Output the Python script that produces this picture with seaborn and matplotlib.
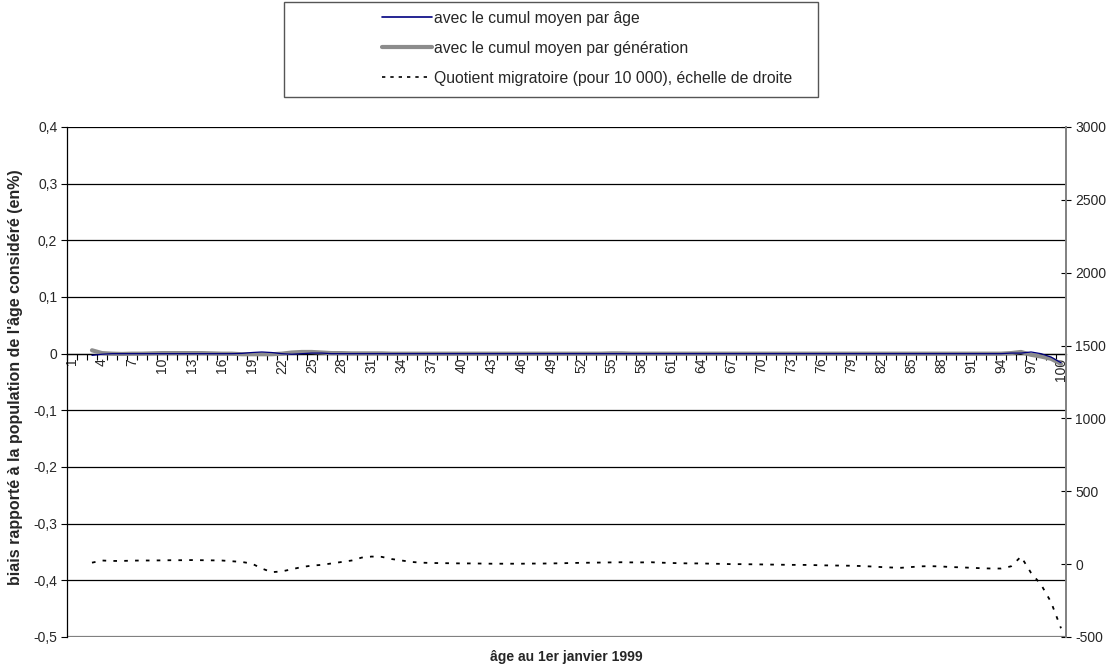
import numpy as np
import pandas as pd
import matplotlib
matplotlib.use("Agg")
import matplotlib.pyplot as plt
from matplotlib.patches import Rectangle
from matplotlib.lines import Line2D
from matplotlib.ticker import FixedLocator, FuncFormatter, FixedFormatter
import seaborn as sns

# ---- data -------------------------------------------------------------
ages = list(range(1, 101))
tick_ages = list(range(1, 101, 3))

nan = np.nan
# bias with mean cumulation by age (%), ages 1..100
bias_age = [nan, nan, -0.003, -0.001, 0.0, 0.0, 0.0, 0.0, 0.0, 0.0,
            0.0, 0.0, 0.0, 0.0, 0.0, 0.0, 0.0, 0.0005, 0.002, 0.003,
            0.002, 0.0, -0.001, 0.0, 0.001, 0.001, 0.0, 0.0, 0.0, 0.0,
            0.0, 0.0, 0.0, 0.0, 0.0, 0.0, 0.0, 0.0, 0.0, 0.0,
            0.0, 0.0, 0.0, 0.0, 0.0, 0.0, 0.0, 0.0, 0.0, 0.0,
            0.0, 0.0, 0.0, 0.0, 0.0, 0.0, 0.0, 0.0, 0.0, 0.0,
            0.0, 0.0, 0.0, 0.0, 0.0, 0.0, 0.0, 0.0, 0.0, 0.0,
            0.0, 0.0, 0.0, 0.0, 0.0, 0.0, 0.0, 0.0, 0.0, 0.0,
            0.0, 0.0, 0.0, 0.0, 0.0, 0.0, 0.0, 0.0, 0.0, 0.0,
            0.0, 0.0, 0.0, 0.0, 0.001, 0.001, 0.003, 0.0, -0.006, -0.016]

# bias with mean cumulation by generation (%)
bias_gen = [nan, nan, 0.006, 0.001, 0.0, -0.0005, 0.0, 0.0, 0.0005, 0.001,
            0.001, 0.001, 0.001, 0.001, 0.0005, 0.0, 0.0, -0.001, -0.001, -0.001,
            -0.001, 0.0, 0.002, 0.003, 0.003, 0.002, 0.001, 0.001, 0.0005, 0.0005,
            0.0005, 0.0005, 0.0, 0.0, 0.0, 0.0, 0.0, 0.0, 0.0, 0.0,
            0.0, 0.0, 0.0, 0.0, 0.0, 0.0, 0.0, 0.0, 0.0, 0.0,
            0.0, 0.0, 0.0, 0.0, 0.0005, 0.0005, 0.0, 0.0, 0.0, 0.0,
            0.0, 0.0, 0.0, 0.0, 0.0, 0.0, 0.0, 0.0, 0.0, 0.0,
            0.0, 0.0, 0.0, 0.0, 0.0, 0.0, 0.0, 0.0, 0.0, 0.0,
            0.0, 0.0, 0.0, 0.0, 0.0, 0.0, 0.0, 0.0, 0.0, 0.0,
            0.0, 0.0, 0.0, 0.0, 0.001, 0.003, -0.002, -0.005, -0.009, -0.018]

# migratory quotient (per 10 000), right axis
quotient = [nan, nan, 10, 25, 22, 22, 24, 25, 25, 26,
            27, 27, 28, 27, 26, 25, 20, 15, 4, -30,
            -55, -50, -35, -20, -10, -5, 5, 15, 25, 45,
            52, 50, 35, 25, 15, 10, 8, 7, 6, 5,
            5, 4, 3, 3, 3, 3, 4, 4, 5, 6,
            8, 9, 10, 11, 12, 13, 12, 12, 13, 10,
            8, 6, 5, 5, 3, 2, 0, 0, -1, -2,
            -3, -4, -5, -5, -6, -8, -9, -10, -11, -13,
            -16, -20, -23, -25, -20, -15, -14, -16, -20, -22,
            -25, -28, -30, -30, -15, 52, -60, -140, -260, -440]

labels = ["avec le cumul moyen par âge",
          "avec le cumul moyen par génération",
          "Quotient migratoire (pour 10 000), échelle de droite"]

df = pd.DataFrame({"age": ages, "bias_age": bias_age,
                   "bias_gen": bias_gen, "quotient": quotient})

# ---- style ------------------------------------------------------------
sns.set_theme(style="white")
plt.rcParams["font.family"] = ["Liberation Sans", "DejaVu Sans"]
plt.rcParams["axes.unicode_minus"] = False

fig = plt.figure(figsize=(11.15, 6.72), dpi=100)
ax = fig.add_axes([67 / 1115, 1 - 637 / 672, (1066 - 67) / 1115, (637 - 127) / 672])
ax2 = ax.twinx()

BLUE = "#000080"
GREY = "#8c8c8c"

sns.lineplot(data=df, x="age", y="bias_gen", ax=ax, color=GREY, lw=3.0, zorder=3)
sns.lineplot(data=df, x="age", y="bias_age", ax=ax, color=BLUE, lw=0.9, zorder=4)
sns.lineplot(data=df, x="age", y="quotient", ax=ax2, color="black", lw=1.3,
             dashes=False, zorder=3)
ax2.lines[-1].set_dashes((2, 4))

# left axis
ax.set_xlim(0.5, 100.5)
ax.set_ylim(-0.5, 0.4)
yt = np.round(np.arange(-0.5, 0.41, 0.1), 1)
for v in yt:
    ax.axhline(v, color="black", lw=0.9, zorder=1)
ax.axhline(-0.5, color="#808080", lw=1.6, zorder=1)

for s in ["top", "right"]:
    ax.spines[s].set_visible(False)
ax.spines["bottom"].set_position(("data", 0))
ax.spines["left"].set_color("black")
ax.spines["left"].set_linewidth(0.9)
ax.spines["bottom"].set_color("black")
ax.spines["bottom"].set_linewidth(0.9)

ax.set_yticks(yt)
ax.yaxis.set_major_formatter(FuncFormatter(
    lambda v, p: "0" if abs(v) < 1e-9 else f"{v:.1f}".replace(".", ",")))
ax.xaxis.set_major_locator(FixedLocator(tick_ages))
ax.xaxis.set_major_formatter(FixedFormatter([str(a) for a in tick_ages]))
ax.xaxis.set_minor_locator(FixedLocator(np.arange(0.5, 101, 1)))
ax.tick_params(axis="x", which="major", length=0, pad=3, labelsize=10,
               labelrotation=90)
ax.tick_params(axis="x", which="minor", length=4, width=0.8, direction="out",
               color="black", bottom=True)
ax.tick_params(axis="y", which="major", length=4, width=0.8, direction="out",
               color="black", left=True, labelsize=10, pad=3)

ax.set_xlabel("")
ax.set_ylabel("biais rapporté à la population de l'âge considéré (en%)",
              fontsize=11.5, fontweight="bold")
ax.yaxis.set_label_coords(-0.044, 0.51)
fig.text(566 / 1115, 1 - 657 / 672, "âge au 1er janvier 1999", fontsize=10,
         fontweight="bold", ha="center", va="center")

# right axis
ax2.set_ylim(-500, 3000)
ax2.set_yticks(np.arange(-500, 3001, 500))
ax2.yaxis.set_major_formatter(FuncFormatter(lambda v, p: f"{int(v)}"))
ax2.tick_params(axis="y", length=7, width=0.8, direction="inout", color="black",
                right=True, labelsize=10, pad=3)
ax2.set_ylabel("")
for s in ["top", "left", "bottom"]:
    ax2.spines[s].set_visible(False)
ax2.spines["right"].set_color("#808080")
ax2.spines["right"].set_linewidth(1.4)
ax2.grid(False)
ax.grid(False)

# legend box
fig.patches.append(Rectangle((284 / 1115, 1 - 97 / 672), (818 - 284) / 1115,
                             95 / 672, transform=fig.transFigure,
                             facecolor="white", edgecolor="#555555", lw=1.0))
handles = [Line2D([], [], color=BLUE, lw=1.2),
           Line2D([], [], color=GREY, lw=3.0),
           Line2D([], [], color="black", lw=1.2, dashes=(2, 3))]
fig.legend(handles, labels, loc="upper left",
           bbox_to_anchor=(366 / 1115, 1 + 5 / 672), frameon=False,
           fontsize=11.3, handlelength=3.2, handletextpad=0.12,
           labelspacing=0.95, borderpad=0.5)

fig.savefig("out.png", dpi=100)
